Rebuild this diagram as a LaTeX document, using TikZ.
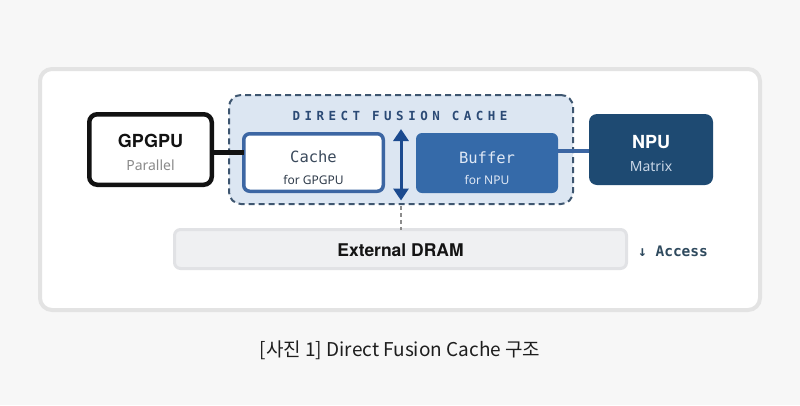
\documentclass[tikz,border=0pt]{standalone}
\usepackage{fontspec}
\setmainfont{Noto Sans}
\newfontfamily\bsans{TeX Gyre Heros}
\newfontfamily\krfont{Noto Sans CJK KR}
\newfontfamily\monofont{DejaVu Sans Mono}
\newfontfamily\monols{DejaVu Sans Mono}[LetterSpace=36]
\usetikzlibrary{arrows.meta}
\definecolor{bgc}{HTML}{F7F7F7}
\definecolor{panelborder}{HTML}{E3E3E3}
\definecolor{dfcfill}{HTML}{DCE6F2}
\definecolor{dfcborder}{HTML}{3E5670}
\definecolor{dfctitle}{HTML}{2B4A75}
\definecolor{cacheborder}{HTML}{3C66A3}
\definecolor{cachetext}{HTML}{3B4A5C}
\definecolor{bufferfill}{HTML}{356AA9}
\definecolor{buffertext}{HTML}{DFE8F5}
\definecolor{npufill}{HTML}{1E4A72}
\definecolor{nputext}{HTML}{C8D6E6}
\definecolor{arrowc}{HTML}{1B4A8F}
\definecolor{dramfill}{HTML}{EFF0F2}
\definecolor{dramborder}{HTML}{E1E2E5}
\definecolor{accessc}{HTML}{2F4A5E}
\definecolor{graytext}{HTML}{8A8A8A}
\definecolor{dotc}{HTML}{8C8C8C}
\definecolor{captionc}{HTML}{1E1E1E}
\tikzset{
  box/.style={rectangle, inner sep=0pt, outer sep=0pt},
  txt/.style={inner sep=0pt, outer sep=0pt, anchor=center},
}
\begin{document}
\begin{tikzpicture}[x=1pt,y=-1pt]
\useasboundingbox (0,0) rectangle (800,405);
\fill[bgc] (0,0) rectangle (800,405);
% outer panel
\node[box, draw=panelborder, line width=4pt, fill=white, rounded corners=12pt,
  minimum width=720pt, minimum height=241pt] (panel) at (400,189.5) {};
% direct fusion cache container
\node[box, draw=dfcborder, line width=2pt, dash pattern=on 6pt off 4pt, fill=dfcfill,
  rounded corners=12pt, minimum width=344pt, minimum height=109pt] (dfc) at (401,149.5) {};
\node[txt, text=dfctitle] (dfctitle) at (400,115.5) {\monols\bfseries\fontsize{12.5}{14}\selectfont DIRECT FUSION CACHE};
% GPGPU
\node[box, draw=black!93, line width=4.5pt, fill=white, rounded corners=8pt,
  minimum width=122.5pt, minimum height=70.5pt] (gpgpu) at (150.5,149.5) {};
\node[txt, text=black!93] (gpgputxt) at (150.5,141) {\bsans\bfseries\fontsize{18}{20}\selectfont GPGPU};
\node[txt, text=graytext] (parallel) at (150.5,165.5) {\fontsize{14}{16}\selectfont Parallel};
% cache
\node[box, draw=cacheborder, line width=3.5pt, fill=white, rounded corners=6pt,
  minimum width=139.5pt, minimum height=57.5pt] (cache) at (313.5,162.5) {};
\node[txt, text=cachetext] (cachetxt) at (313.5,157) {\monofont\fontsize{15.5}{17}\selectfont Cache};
\node[txt, text=cachetext!80!black] (forgpgpu) at (313.5,179.5) {\fontsize{12}{14}\selectfont for GPGPU};
% buffer
\node[box, fill=bufferfill, rounded corners=6pt,
  minimum width=142pt, minimum height=60pt] (buffer) at (487,163) {};
\node[txt, text=buffertext] (buffertxt) at (487,158) {\monofont\fontsize{15.5}{17}\selectfont Buffer};
\node[txt, text=buffertext] (fornpu) at (487,179.5) {\fontsize{12}{14}\selectfont for NPU};
% NPU
\node[box, fill=npufill, rounded corners=8pt,
  minimum width=124pt, minimum height=71pt] (npu) at (651,149.5) {};
\node[txt, text=white] (nputxt) at (651,142) {\bsans\bfseries\fontsize{18}{20}\selectfont NPU};
\node[txt, text=nputext] (matrix) at (651,166) {\fontsize{14}{16}\selectfont Matrix};
% DRAM
\node[box, draw=dramborder, line width=3pt, fill=dramfill, rounded corners=6pt,
  minimum width=452pt, minimum height=39pt] (dram) at (400.5,249) {};
\node[txt, text=black!92] (dramtxt) at (400.5,250) {\bsans\bfseries\fontsize{17.5}{19}\selectfont External DRAM};
\node[txt, text=accessc] (access) at (673,251) {\monofont\bfseries\fontsize{14.5}{16}\selectfont ↓ Access};
% connectors
\path ([yshift=-3pt]gpgpu.east) coordinate (g1);
\draw[line width=5pt, black!93] (g1) -- (g1 -| cache.west);
\path ([yshift=-1.2pt]npu.west) coordinate (n1);
\draw[line width=4pt, cacheborder] (n1) -- (n1 -| buffer.east);
\coordinate (atop) at (401,129);
\coordinate (abot) at (401,200.5);
\draw[line width=3pt, arrowc, {Triangle[width=15pt,length=12pt]}-{Triangle[width=15pt,length=12pt]}] (atop) -- (abot);
\coordinate (dtop) at (401,206);
\draw[line width=1.5pt, dotc, dash pattern=on 4pt off 3pt] (dtop) -- (dtop |- dram.north);
% caption
\node[txt, text=captionc] (caption) at (400,350) {\krfont\fontsize{19}{21}\selectfont [사진 1] Direct Fusion Cache 구조};
\end{tikzpicture}
\end{document}
